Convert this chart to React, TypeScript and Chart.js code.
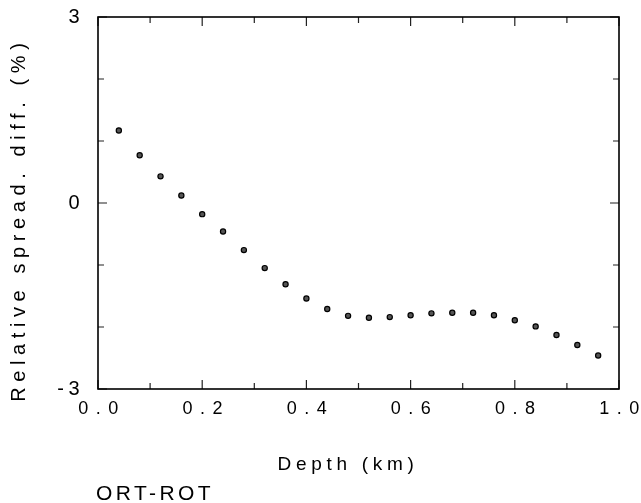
import React, { useEffect, useRef } from 'react';
import { Chart, registerables } from 'chart.js';

Chart.register(...registerables);

// ---- data ----
const depthKm = [
  0.04, 0.08, 0.12, 0.16, 0.2, 0.24, 0.28, 0.32, 0.36, 0.4, 0.44, 0.48,
  0.52, 0.56, 0.6, 0.64, 0.68, 0.72, 0.76, 0.8, 0.84, 0.88, 0.92, 0.96,
];
const spreadDiffPct = [
  1.17, 0.77, 0.43, 0.12, -0.18, -0.46, -0.76, -1.05, -1.31, -1.54, -1.71, -1.82,
  -1.85, -1.84, -1.81, -1.78, -1.77, -1.77, -1.81, -1.89, -1.99, -2.13, -2.29, -2.46,
];
const xRange = [0, 1];
const xTickStep = 0.2;
const yRange = [-3, 3];
const yTickStep = 1;
const yLabeledTicks = [-3, 0, 3];
const xTitle = 'Depth (km)';
const yTitle = 'Relative spread. diff. (%)';
const caption = 'ORT-ROT';

const FONT = '"Liberation Sans", Arial, Helvetica, sans-serif';

export default function App() {
  const ref = useRef<HTMLCanvasElement>(null);

  useEffect(() => {
    const canvas = ref.current;
    if (!canvas) return;

    const framePlugin = {
      id: 'framePlugin',
      beforeDraw(chart: any) {
        chart.ctx.letterSpacing = '7.5px';
      },
      beforeDatasetsDraw(chart: any) {
        chart.ctx.letterSpacing = '4.5px';
      },
      afterDraw(chart: any) {
        const ctx = chart.ctx as CanvasRenderingContext2D;
        const { left, right, top, bottom } = chart.chartArea;
        const xs = chart.scales.x;
        const ys = chart.scales.y;
        ctx.save();
        (ctx as any).letterSpacing = '0px';

        // tick marks (inward, on all four sides)
        ctx.strokeStyle = '#222';
        ctx.lineWidth = 1.2;
        ctx.beginPath();
        const xv = xs.ticks.map((t: any) => t.value);
        for (let i = 0; i < xv.length; i++) {
          const p = xs.getPixelForValue(xv[i]);
          ctx.moveTo(p, bottom); ctx.lineTo(p, bottom - 9);
          ctx.moveTo(p, top); ctx.lineTo(p, top + 9);
          if (i < xv.length - 1) {
            const m = xs.getPixelForValue((xv[i] + xv[i + 1]) / 2);
            ctx.moveTo(m, bottom); ctx.lineTo(m, bottom - 6);
            ctx.moveTo(m, top); ctx.lineTo(m, top + 6);
          }
        }
        ys.ticks.forEach((t: any) => {
          const p = ys.getPixelForValue(t.value);
          const len = yLabeledTicks.includes(Math.round(t.value)) ? 9 : 6;
          ctx.moveTo(left, p); ctx.lineTo(left + len, p);
          ctx.moveTo(right, p); ctx.lineTo(right - len, p);
        });
        ctx.stroke();

        // frame
        ctx.strokeStyle = '#000';
        ctx.lineWidth = 1.6;
        ctx.strokeRect(left, top, right - left, bottom - top);

        // titles
        ctx.fillStyle = '#000';
        ctx.textBaseline = 'alphabetic';

        ctx.font = `19px ${FONT}`;
        (ctx as any).letterSpacing = '4.7px';
        ctx.textAlign = 'center';
        ctx.fillText(xTitle, 348, 470);

        ctx.save();
        ctx.font = `20px ${FONT}`;
        (ctx as any).letterSpacing = '5.6px';
        ctx.translate(25, 222.5);
        ctx.rotate(-Math.PI / 2);
        ctx.textAlign = 'center';
        ctx.fillText(yTitle, 2.8, 0);
        ctx.restore();

        ctx.font = `21px ${FONT}`;
        (ctx as any).letterSpacing = '3.4px';
        ctx.textAlign = 'left';
        ctx.fillText(caption, 96, 500);

        ctx.restore();
        (ctx as any).letterSpacing = '0px';
      },
    };

    const chart = new Chart(canvas, {
      type: 'scatter',
      data: {
        datasets: [
          {
            data: depthKm.map((x, i) => ({ x, y: spreadDiffPct[i] })),
            pointRadius: 2.6,
            pointHoverRadius: 2.6,
            pointBackgroundColor: '#555',
            pointBorderColor: '#000',
            pointBorderWidth: 1.2,
            showLine: false,
          },
        ],
      },
      options: {
        responsive: false,
        animation: false,
        events: [],
        layout: { padding: { left: 0, top: 17, right: 22, bottom: 0 }, autoPadding: false },
        plugins: { legend: { display: false }, tooltip: { enabled: false } },
        scales: {
          x: {
            type: 'linear',
            position: 'bottom',
            min: xRange[0],
            max: xRange[1],
            grid: { display: false, drawTicks: false },
            border: { display: false },
            ticks: {
              stepSize: xTickStep,
              autoSkip: false,
              maxRotation: 0,
              minRotation: 0,
              padding: 9,
              labelOffset: 4,
              color: '#000',
              font: { family: FONT, size: 18 },
              callback: (v: any) => Number(v).toFixed(1),
            },
            afterFit: (s: any) => {
              s.height = 114;
              s.paddingLeft = 0;
              s.paddingRight = 0;
            },
          },
          y: {
            type: 'linear',
            position: 'left',
            min: yRange[0],
            max: yRange[1],
            grid: { display: false, drawTicks: false },
            border: { display: false },
            ticks: {
              stepSize: yTickStep,
              autoSkip: false,
              padding: 14,
              z: 1,
              color: '#000',
              font: { family: FONT, size: 20 },
              callback: (v: any) =>
                yLabeledTicks.includes(Math.round(Number(v))) ? String(Math.round(Number(v))) : '',
            },
            afterFit: (s: any) => {
              s.width = 98;
              s.paddingTop = 0;
              s.paddingBottom = 0;
            },
          },
        },
      },
      plugins: [framePlugin],
    } as any);

    return () => chart.destroy();
  }, []);

  return (
    <div style={{ position: 'fixed', left: 0, top: 0, width: 641, height: 503, background: '#fff' }}>
      <canvas ref={ref} width={641} height={503} style={{ display: 'block' }} />
    </div>
  );
}
